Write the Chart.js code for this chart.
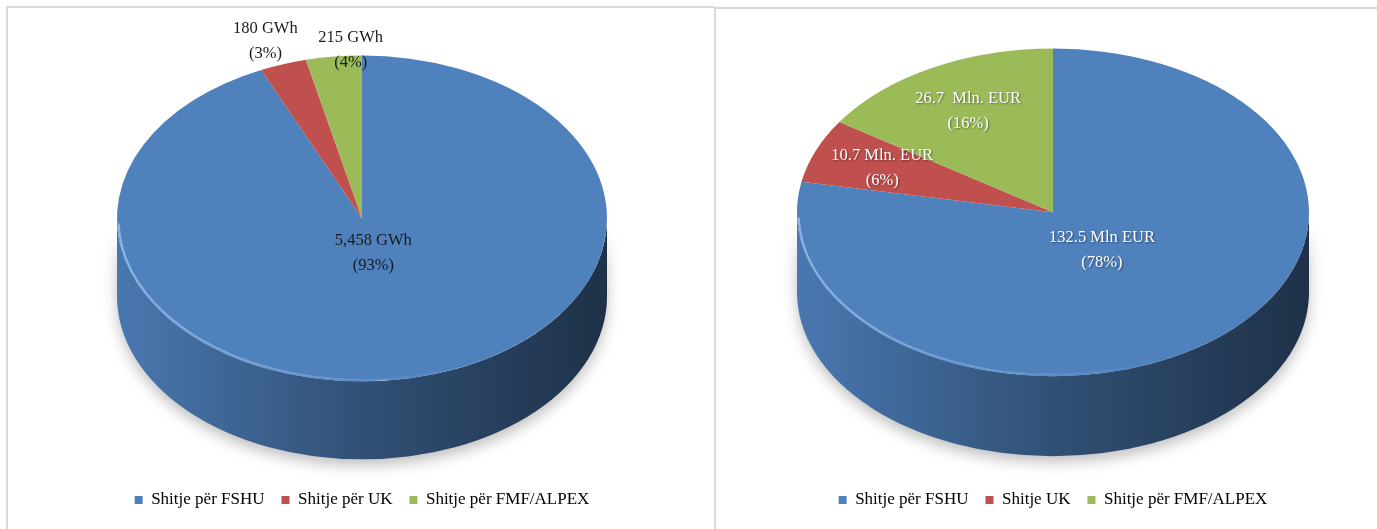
<!DOCTYPE html>
<html>
<head>
<meta charset="utf-8">
<script src="https://cdn.jsdelivr.net/npm/chart.js@4.4.0/dist/chart.umd.min.js"></script>
<style>
body{margin:0;background:#fff;width:1377px;height:529px;overflow:hidden;position:relative;}
.panel{position:absolute;border-top:2px solid #d9d9d9;border-left:2px solid #d9d9d9;}
#p1{left:6px;top:6px;width:707px;height:523px;}
#p2{left:714px;top:7px;width:663px;height:522px;}
canvas{position:absolute;left:0;top:0;}
</style>
</head>
<body>
<div class="panel" id="p1"><canvas id="energji" width="705" height="521"></canvas></div>
<div class="panel" id="p2"><canvas id="vlera" width="661" height="520"></canvas></div>
<script>
// energjia e shitur (GWh)
let kategori_energji = ['Shitje për FSHU', 'Shitje për UK', 'Shitje për FMF/ALPEX'];
let vlera_energji = [5458, 180, 215];
let etiketa_energji = ['5,458 GWh', '180 GWh', '215 GWh'];

// vlera e shitjeve (Mln EUR)
let kategori_vlera = ['Shitje për FSHU', 'Shitje UK', 'Shitje për FMF/ALPEX'];
let vlera_vlera = [132.5, 10.7, 26.7];
let etiketa_vlera = ['132.5 Mln EUR', '10.7 Mln. EUR', '26.7  Mln. EUR'];

let ngjyrat = ['#4F81BD', '#C0504D', '#9BBB59'];

Chart.defaults.font.family = "'Liberation Serif', 'DejaVu Serif', serif";
Chart.defaults.color = '#000';

// errëson një ngjyrë hex
function hije(hex, f){
	let n = parseInt(hex.slice(1), 16);
	let r = Math.round(((n >> 16) & 255) * f);
	let g = Math.round(((n >> 8) & 255) * f);
	let b = Math.round((n & 255) * f);
	return `rgb(${r},${g},${b})`;
}

// pie 3D: shtyp rrethin ne elips dhe vizaton anen poshte
const pie3d = {
	id: 'pie3d',
	beforeDatasetsDraw(chart, args, opts){
		const ctx = chart.ctx;
		const arcs = chart.getDatasetMeta(0).data;
		const cx = arcs[0].x, cy = arcs[0].y, r = arcs[0].outerRadius;
		const top = cy - r;
		const ry = r * opts.tilt;
		const ey = top + ry;
		ctx.save();
		ctx.shadowColor = 'rgba(0,0,0,0.25)';
		ctx.shadowBlur = 14;
		ctx.shadowOffsetY = 6;
		arcs.forEach(arc=>{
			let s = Math.max(arc.startAngle, 0);
			let e = Math.min(arc.endAngle, Math.PI);
			if (e <= s) return;
			let col = arc.options.backgroundColor;
			let g = ctx.createLinearGradient(cx - r, 0, cx + r, 0);
			g.addColorStop(0, hije(col, 0.93));
			g.addColorStop(0.5, hije(col, 0.62));
			g.addColorStop(1, hije(col, 0.38));
			ctx.beginPath();
			ctx.ellipse(cx, ey, r, ry, 0, s, e);
			ctx.ellipse(cx, ey + opts.depth, r, ry, 0, e, s, true);
			ctx.closePath();
			ctx.fillStyle = g;
			ctx.fill();
		});
		ctx.restore();
		ctx.save();
		ctx.translate(0, top);
		ctx.scale(1, opts.tilt);
		ctx.translate(0, -top);
	},
	afterDatasetsDraw(chart, args, opts){
		const ctx = chart.ctx;
		ctx.restore();
		const arcs = chart.getDatasetMeta(0).data;
		const cx = arcs[0].x, cy = arcs[0].y, r = arcs[0].outerRadius;
		const top = cy - r;
		const ry = r * opts.tilt;
		// vija e ndritshme ne buzë (zbehet djathtas)
		ctx.save();
		let gr = ctx.createLinearGradient(cx - r, 0, cx + r * 0.4, 0);
		gr.addColorStop(0, 'rgba(165,205,250,0.7)');
		gr.addColorStop(1, 'rgba(165,205,250,0)');
		ctx.beginPath();
		ctx.ellipse(cx, top + ry, r - 1.5, ry - 1.5, 0, Math.PI * 0.3, Math.PI * 0.99);
		ctx.strokeStyle = gr;
		ctx.lineWidth = 2;
		ctx.stroke();
		ctx.restore();

		const data = chart.data.datasets[0].data;
		const total = data.reduce((a,b)=>a+b, 0);
		ctx.save();
		ctx.font = "16.5px 'Liberation Serif', serif";
		ctx.textAlign = 'center';
		ctx.textBaseline = 'middle';
		ctx.fillStyle = opts.labelColor;
		if (opts.labelShadow){
			ctx.shadowColor = 'rgba(0,0,0,0.45)';
			ctx.shadowBlur = 2;
			ctx.shadowOffsetX = 1;
			ctx.shadowOffsetY = 1;
		}
		arcs.forEach((arc,i)=>{
			let m = (arc.startAngle + arc.endAngle) / 2;
			let d = opts.labelRadius[i] * r;
			let x = cx + Math.cos(m) * d + opts.labelNudge[i];
			let y = top + (cy + Math.sin(m) * d - top) * opts.tilt;
			let pct = Math.round(data[i] / total * 100);
			ctx.fillText(opts.labels[i], x, y - 12.5);
			ctx.fillText('(' + pct + '%)', x, y + 12.5);
		});
		ctx.restore();
	}
};

function krijo_grafik(id, kategori, vlera, etiketa, cfg){
	return new Chart(document.getElementById(id), {
		type: 'pie',
		plugins: [pie3d],
		data: {
			labels: kategori,
			datasets: [{
				data: vlera,
				backgroundColor: ngjyrat,
				borderWidth: 0,
				radius: cfg.radius,
				clip: false
			}]
		},
		options: {
			responsive: false,
			animation: false,
			devicePixelRatio: 1,
			layout: { padding: cfg.padding },
			plugins: {
				tooltip: { enabled: false },
				legend: {
					position: 'bottom',
					labels: {
						boxWidth: 8,
						boxHeight: 8,
						padding: 17,
						color: '#000',
						font: { size: 17 }
					}
				},
				pie3d: {
					tilt: cfg.tilt,
					depth: cfg.depth,
					labels: etiketa,
					labelRadius: cfg.labelRadius,
					labelNudge: cfg.labelNudge,
					labelColor: cfg.labelColor,
					labelShadow: cfg.labelShadow
				}
			}
		}
	});
}

krijo_grafik('energji', kategori_energji, vlera_energji, etiketa_energji, {
	radius: 245,
	tilt: 0.665,
	depth: 78,
	padding: { left: 3, right: 0, top: 118.5, bottom: 10.5 },
	labelRadius: [0.22, 1.15, 1.04],
	labelNudge: [0, -6, 18],
	labelColor: '#1a1a1a',
	labelShadow: false
});

krijo_grafik('vlera', kategori_vlera, vlera_vlera, etiketa_vlera, {
	radius: 256,
	tilt: 0.64,
	depth: 80,
	padding: { left: 13, right: 0, top: 125.5, bottom: 10.5 },
	labelRadius: [0.3, 0.72, 0.7],
	labelNudge: [0, 0, 0],
	labelColor: '#ffffff',
	labelShadow: true
});
</script>
</body>
</html>
